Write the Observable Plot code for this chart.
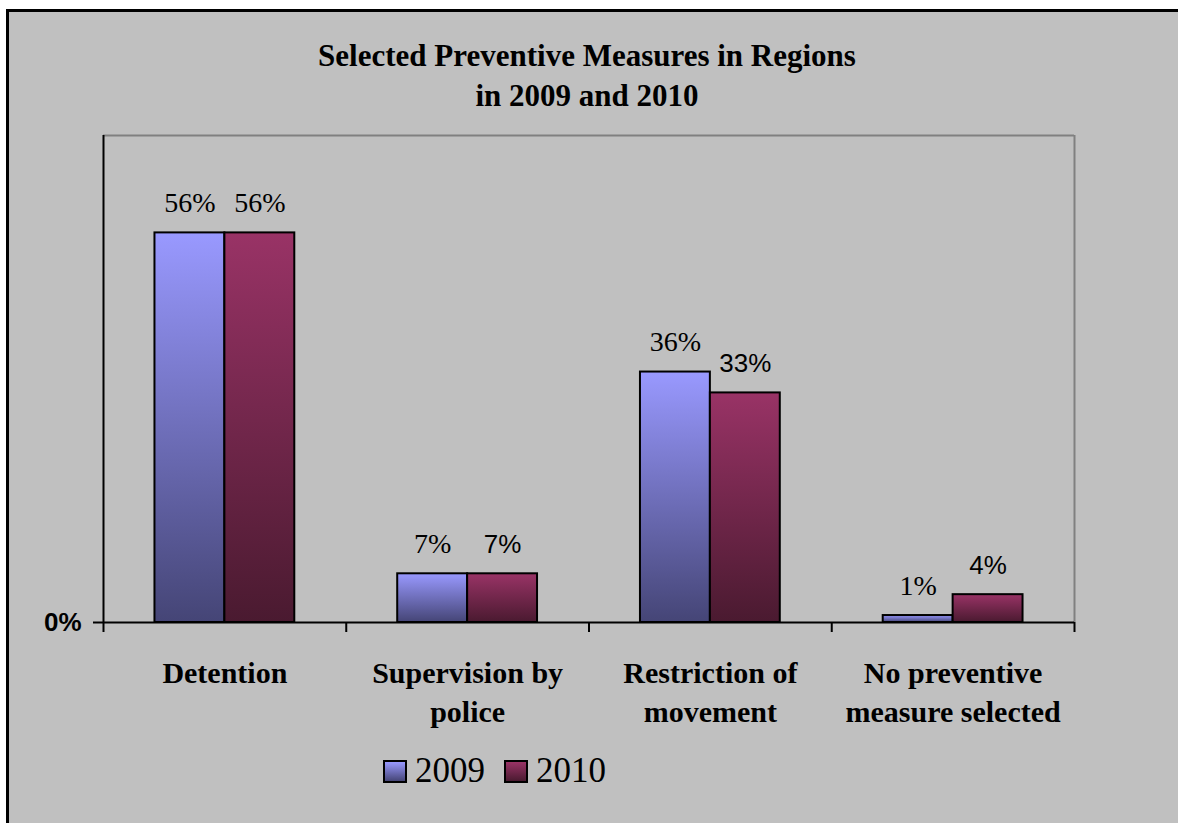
<!DOCTYPE html>
<html><head><meta charset="utf-8">
<script src="https://cdn.jsdelivr.net/npm/d3@7"></script>
<script src="https://cdn.jsdelivr.net/npm/@observablehq/plot@0.6"></script>
<style>
html,body{margin:0;padding:0;background:#fff;overflow:hidden;width:1178px;height:823px;}
#frame{position:absolute;left:6px;top:9px;width:1172px;height:814px;border-left:3px solid #000;border-top:3px solid #000;background:#c0c0c0;box-sizing:border-box;}
#title{position:absolute;left:287px;width:600px;top:36px;text-align:center;font:bold 31px "Liberation Serif";line-height:40px;color:#000;}
#chart{position:absolute;left:0;top:0;}
.sw{position:absolute;top:760px;width:24px;height:23px;box-sizing:border-box;border:2px solid #000;}
.lt{position:absolute;top:751px;font:35px "Liberation Serif";line-height:40px;color:#000;}
</style></head>
<body>
<div id="frame"></div>
<div id="chart"></div>
<div id="title">Selected Preventive Measures in Regions<br>in 2009 and 2010</div>
<div id="legend"></div>
<script>
// ---- data ----
const categories = ["Detention", "Supervision by police", "Restriction of movement", "No preventive measure selected"];
const categoryLabels = ["Detention", "Supervision by\npolice", "Restriction of\nmovement", "No preventive\nmeasure selected"];
const years = ["2009", "2010"];
const values2009 = [56, 7, 36, 1];
const values2010 = [56, 7, 33, 4];
const yTicks = [0];

// ---- build rows ----
const rows = categories.flatMap((c, i) => [
  {cat: c, idx: i, year: "2009", value: values2009[i]},
  {cat: c, idx: i, year: "2010", value: values2010[i]}
]);
const W = 0.288; // bar width as fraction of a category slot
const sansLabels = new Set(["Supervision by police|2010", "Restriction of movement|2010", "No preventive measure selected|2010"]);
const x1 = d => d.idx + 0.5 - (d.year === "2009" ? W : 0);
const x2 = d => d.idx + 0.5 + (d.year === "2010" ? W : 0);
const xc = d => d.idx + 0.5 + (d.year === "2009" ? -W / 2 : W / 2);

const chart = Plot.plot({
  width: 1178,
  height: 823,
  marginLeft: 103,
  marginRight: 104,
  marginTop: 135,
  marginBottom: 201,
  style: {background: "transparent", color: "#000", overflow: "visible"},
  x: {type: "linear", domain: [0, categories.length]},
  y: {type: "linear", domain: [0, 70]},
  marks: [
    Plot.ruleY([70], {stroke: "#808080", strokeWidth: 2}),
    Plot.ruleX([categories.length], {stroke: "#808080", strokeWidth: 2}),
    Plot.rectY(rows.filter(d => d.year === "2009"), {x1, x2, y1: 0, y2: "value", fill: "url(#g2009)", stroke: "#000", strokeWidth: 2}),
    Plot.rectY(rows.filter(d => d.year === "2010"), {x1, x2, y1: 0, y2: "value", fill: "url(#g2010)", stroke: "#000", strokeWidth: 2}),
    Plot.ruleY([0], {stroke: "#000", strokeWidth: 2}),
    Plot.ruleX([0], {stroke: "#000", strokeWidth: 2}),
    Plot.axisX(d3.range(categories.length + 1), {tickSize: 10, tickFormat: () => "", label: null, strokeWidth: 2}),
    Plot.axisY(yTicks, {tickSize: 10, tickPadding: 12, tickFormat: d => d + "%", label: null, strokeWidth: 2,
      fontFamily: "Liberation Sans", fontWeight: "bold", fontSize: 26}),
    Plot.text(categoryLabels, {x: (d, i) => i + 0.5, frameAnchor: "bottom", lineAnchor: "top", dy: 33,
      lineHeight: 1.3, fontFamily: "Liberation Serif", fontWeight: "bold", fontSize: 30, fill: "#000"}),
    Plot.text(rows.filter(d => !sansLabels.has(d.cat + "|" + d.year)), {x: xc, y: "value", text: d => d.value + "%",
      dy: -30, fontFamily: "Liberation Serif", fontSize: 28, fill: "#000"}),
    Plot.text(rows.filter(d => sansLabels.has(d.cat + "|" + d.year)), {x: xc, y: "value", text: d => d.value + "%",
      dy: -29, fontFamily: "Liberation Sans", fontSize: 26, fill: "#000"})
  ]
});

const ns = "http://www.w3.org/2000/svg";
const defs = document.createElementNS(ns, "defs");
defs.innerHTML =
  '<linearGradient id="g2009" x1="0" y1="0" x2="0" y2="1"><stop offset="0" stop-color="#9999ff"/><stop offset="1" stop-color="#454576"/></linearGradient>' +
  '<linearGradient id="g2010" x1="0" y1="0" x2="0" y2="1"><stop offset="0" stop-color="#993366"/><stop offset="1" stop-color="#4a1a30"/></linearGradient>';
chart.insertBefore(defs, chart.firstChild);
document.getElementById("chart").appendChild(chart);

// legend
const legend = document.getElementById("legend");
const legendPos = [{sw: 383, tx: 415}, {sw: 504, tx: 536}];
const grads = {"2009": "linear-gradient(#9999ff,#454576)", "2010": "linear-gradient(#993366,#4a1a30)"};
years.forEach((y, i) => {
  const s = document.createElement("div");
  s.className = "sw"; s.style.left = legendPos[i].sw + "px"; s.style.background = grads[y];
  const t = document.createElement("div");
  t.className = "lt"; t.style.left = legendPos[i].tx + "px"; t.textContent = y;
  legend.appendChild(s); legend.appendChild(t);
});
</script>
</body></html>
